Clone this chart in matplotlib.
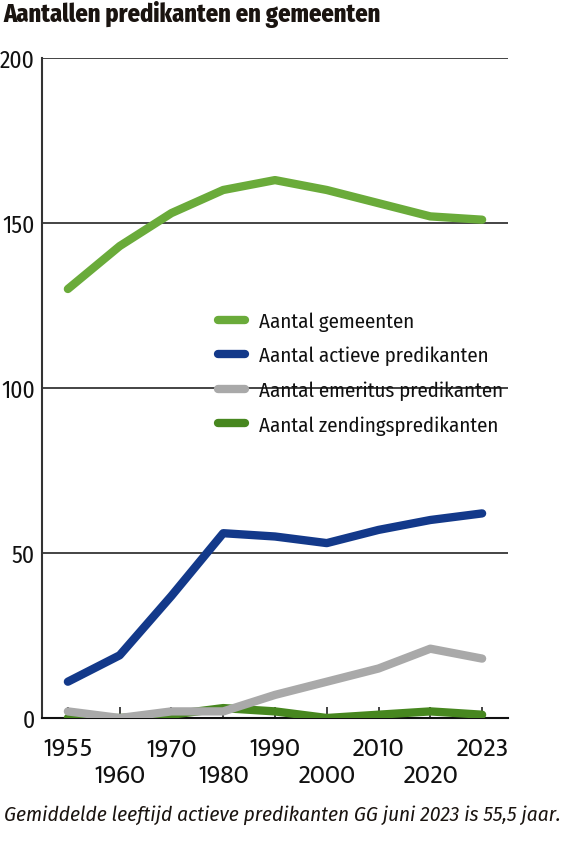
import matplotlib
matplotlib.use("Agg")
import matplotlib.pyplot as plt
from matplotlib.lines import Line2D

years = ["1955", "1960", "1970", "1980", "1990", "2000", "2010", "2020", "2023"]
gemeenten = [130, 143, 153, 160, 163, 160, 156, 152, 151]
actieve = [11, 19, 37, 56, 55, 53, 57, 60, 62]
emeritus = [2, 0, 2, 2, 7, 11, 15, 21, 18]
zending = [0, 0, 1, 3, 2, 0, 1, 2, 1]

labels = ["Aantal gemeenten", "Aantal actieve predikanten",
          "Aantal emeritus predikanten", "Aantal zendingspredikanten"]
colors = ["#6aab3a", "#13398a", "#a9a9a9", "#47871f"]
yticks = [0, 50, 100, 150, 200]

W, H = 578, 862
fig = plt.figure(figsize=(W / 100, H / 100), dpi=100)
ax = fig.add_axes([42 / W, 1 - 719 / H, (508 - 42) / W, (719 - 59) / H])

narrow = ["Fira Sans Condensed", "DejaVu Sans"]
wide = ["Mukta", "DejaVu Sans"]
x = list(range(len(years)))
lw = 6.0
series = [gemeenten, actieve, emeritus, zending]
for idx in [3, 2, 1, 0]:
    ax.plot(x, series[idx], color=colors[idx], lw=lw, solid_capstyle="round",
            solid_joinstyle="round", zorder=3 + (3 - idx))

ax.set_xlim(-0.5, len(years) - 0.5)
ax.set_ylim(0, 200)
ax.set_yticks(yticks)
ax.set_yticklabels([str(v) for v in yticks], fontfamily=narrow, fontsize=17, color="#111111")
ax.yaxis.grid(True, color="#111111", lw=1.1, zorder=1)
ax.set_axisbelow(True)
ax.tick_params(axis="y", length=0, pad=5)

ax.set_xticks(x)
ax.set_xticklabels([])
ax.tick_params(axis="x", direction="in", length=8, width=1.2, color="#222222")
for i, yr in enumerate(years):
    off = 0 if i % 2 == 0 else 27
    ax.annotate(yr, xy=(i, 0), xycoords=("data", "axes fraction"),
                xytext=(0, -31 - off), textcoords="offset pixels",
                ha="center", va="center", fontsize=19, fontfamily=wide,
                color="#111111")

for s in ["top", "right"]:
    ax.spines[s].set_visible(False)
ax.spines["left"].set_color("#333333")
ax.spines["left"].set_linewidth(1.5)
ax.spines["bottom"].set_color("#111111")
ax.spines["bottom"].set_linewidth(1.5)

handles = [Line2D([0], [0], color=c, lw=lw, solid_capstyle="round") for c in colors]
leg = ax.legend(handles, labels, loc="upper left",
                bbox_to_anchor=(168 / 466, 1 - (304 - 59) / 660),
                frameon=False, prop={"family": narrow, "size": 15},
                handlelength=1.3, handletextpad=0.65, labelspacing=0.72, borderaxespad=0)
for t in leg.get_texts():
    t.set_color("#111111")

fig.text(3 / W, 1 - 15 / H, "Aantallen predikanten en gemeenten", fontsize=17.5,
         fontweight="heavy", fontfamily=narrow, ha="left", va="center", color="#1a1410")
fig.text(4 / W, 1 - 815 / H,
         "Gemiddelde leeftijd actieve predikanten GG juni 2023 is 55,5 jaar.",
         fontsize=15.2, style="italic", fontfamily=narrow, ha="left", va="center", color="#1a1410")

fig.savefig("out.png", dpi=100)
